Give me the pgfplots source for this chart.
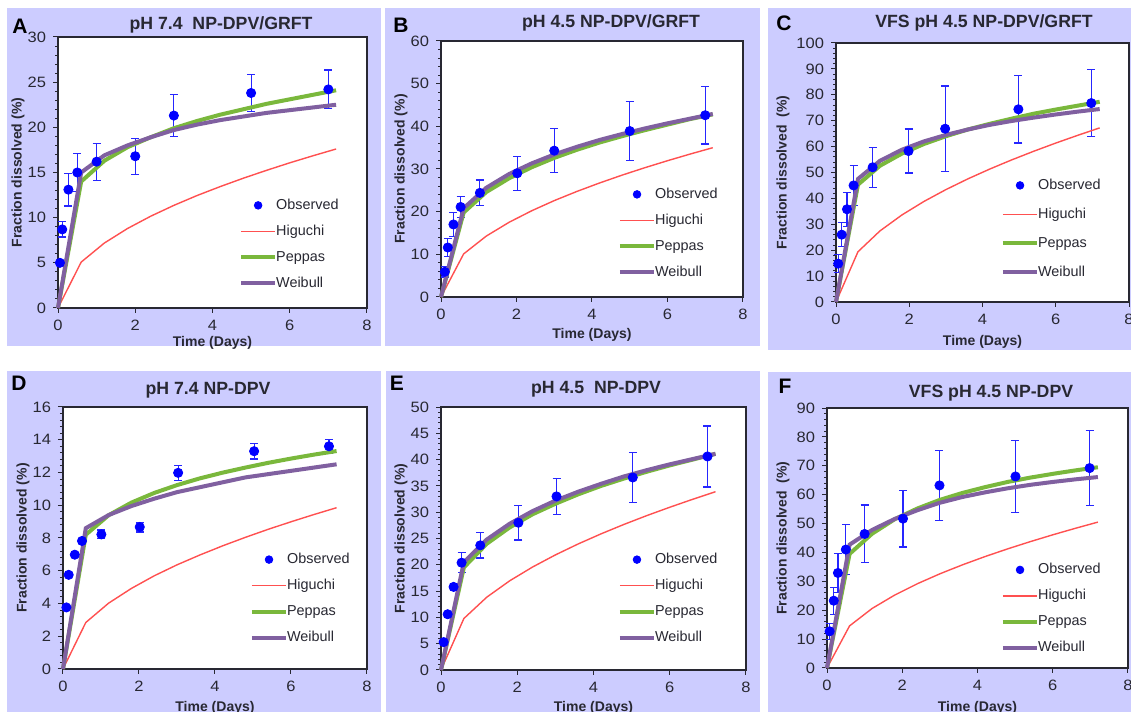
\documentclass[border=0pt]{standalone}
\usepackage{fontspec}
\setmainfont{Liberation Sans}
\newfontfamily\tickfont[FakeStretch=1.1]{Liberation Sans}
\usepackage{pgfplots}
\pgfplotsset{compat=1.18}
\definecolor{lav}{RGB}{204,204,255}
\definecolor{hig}{RGB}{255,80,80}
\definecolor{pep}{RGB}{122,184,60}
\definecolor{wei}{RGB}{128,96,160}
\definecolor{obs}{RGB}{0,0,255}
\definecolor{txt}{RGB}{40,40,50}
\tikzset{legtext/.style={anchor=west, inner sep=0.5pt, text height=5.2pt, text depth=1.5pt, font=\fontsize{7.2}{8}\selectfont, text=txt}}
\pgfplotsset{
  panel/.style={
    scale only axis, anchor=south west, clip=false,
    xmin=0, xmax=8, xtick={0,2,4,6,8}, ymin=0,
    tick align=outside, tick pos=left,
    minor y tick num=4,
    major tick length=2.5pt, minor tick length=1.5pt,
    axis line style={draw=txt, line width=0.7pt},
    every tick/.style={txt, line width=0.5pt},
    tick label style={font=\tickfont\fontsize{7.5}{9}\selectfont, color=txt},
    /pgf/number format/assume math mode=true,
    axis background/.style={fill=white},
    xlabel={Time (Days)}, ylabel={Fraction dissolved (\%)},
    label style={font=\bfseries\fontsize{7}{8}\selectfont, color=txt},
    legend cell align=left,
    legend style={draw=none, fill=none, anchor=north west, inner sep=0pt, outer sep=0pt,
      row sep=4.5pt, column sep=0pt,
      nodes={inner sep=0pt, text height=6pt, text depth=2.5pt}},
  },
  obsst/.style={only marks, mark=*, mark size=2.3pt, color=obs, forget plot,
    error bars/.cd, y dir=both, y explicit,
    error bar style={obs!85, line width=0.6pt},
    error mark options={rotate=90, mark size=2pt, obs!85, line width=0.6pt}},
  higst/.style={hig, line width=0.7pt, no marks, forget plot},
  pepst/.style={pep, line width=2pt, no marks, forget plot},
  weist/.style={wei, line width=2pt, no marks, forget plot},
}
\newcommand{\leg}{%
  \addlegendimage{legend image code/.code={\path[draw=none] (0cm,0cm) -- (0.6cm,0cm); \fill[obs] (0.3cm,0cm) circle (1.9pt); \node[legtext] at (0.6cm,0cm) {Observed};}}
  \addlegendentry{}
  \addlegendimage{legend image code/.code={\draw[hig, line width=0.8pt] (0cm,0cm) -- (0.6cm,0cm); \node[legtext] at (0.6cm,0cm) {Higuchi};}}
  \addlegendentry{}
  \addlegendimage{legend image code/.code={\draw[pep, line width=2pt] (0cm,0cm) -- (0.6cm,0cm); \node[legtext] at (0.6cm,0cm) {Peppas};}}
  \addlegendentry{}
  \addlegendimage{legend image code/.code={\draw[wei, line width=2pt] (0cm,0cm) -- (0.6cm,0cm); \node[legtext] at (0.6cm,0cm) {Weibull};}}
  \addlegendentry{}}
\newcommand{\ttl}[1]{\bfseries\fontsize{8.85}{10}\selectfont #1}
\newcommand{\lett}[1]{\bfseries\fontsize{10.5}{12}\selectfont #1}
\begin{document}
\begin{tikzpicture}
\path[use as bounding box] (0,0) rectangle (565.5pt,356pt);
\fill[lav] (3.5pt,183pt) rectangle (190.5pt,352pt);
\fill[lav] (192.5pt,183pt) rectangle (380pt,352pt);
\fill[lav] (384pt,181pt) rectangle (565.5pt,352pt);
\fill[lav] (3.5pt,0pt) rectangle (190.5pt,170.5pt);
\fill[lav] (193pt,0pt) rectangle (380pt,170.5pt);
\fill[lav] (384pt,0pt) rectangle (565.5pt,170pt);

\node[txt] at (110.5pt,343.5pt) {\ttl{pH 7.4\ \ NP-DPV/GRFT}};
\node[txt] at (305.5pt,344.5pt) {\ttl{pH 4.5 NP-DPV/GRFT}};
\node[txt] at (492pt,344.5pt) {\ttl{VFS pH 4.5 NP-DPV/GRFT}};
\node[txt] at (104pt,161pt) {\ttl{pH 7.4 NP-DPV}};
\node[txt] at (298pt,161.5pt) {\ttl{pH 4.5\ \ NP-DPV}};
\node[txt] at (495.5pt,159.5pt) {\ttl{VFS pH 4.5 NP-DPV}};
\node at (10pt,343pt) {\lett{A}};
\node at (200.5pt,343.5pt) {\lett{B}};
\node at (392pt,344.5pt) {\lett{C}};
\node at (9.5pt,164.5pt) {\lett{D}};
\node at (198.5pt,164.5pt) {\lett{E}};
\node at (392.5pt,163pt) {\lett{F}};

% ---------------- A
\begin{axis}[panel, at={(29pt,202pt)}, width=154.5pt, height=135.5pt,
  ymax=30, ytick={0,5,...,30},
  ylabel style={at={([xshift=-20pt]axis description cs:0,0.5)}, anchor=center},
  xlabel style={at={([yshift=-17.5pt]axis description cs:0.5,0)}, anchor=center},
  legend style={at={(0.586,0.41)}}]
\addplot[obsst] table[x=t,y=f,y error=e]{
t f e
0.05 5.0 0.3
0.11 8.7 0.85
0.27 13.1 1.8
0.5 15.0 2.1
1 16.2 2.05
2 16.8 2.0
3 21.3 2.3
5 23.8 2.05
7 24.2 2.15
};
\addplot[higst] coordinates {(0,0) (0.6,5.08) (1.2,7.19) (1.8,8.80) (2.4,10.16) (3.0,11.36) (3.6,12.45) (4.2,13.44) (4.8,14.37) (5.4,15.24) (6.0,16.07) (6.6,16.85) (7.2,17.60)};
\addplot[pepst] coordinates {(0,0) (0.6,14.0) (1.2,16.3) (1.8,17.8) (2.4,18.9) (3.0,19.9) (3.6,20.7) (4.2,21.4) (4.8,22.0) (5.4,22.6) (6.0,23.1) (6.6,23.6) (7.2,24.1)};
\addplot[weist] coordinates {(0,0) (0.6,15.0) (1.2,16.9) (1.8,18.0) (2.4,18.9) (3.0,19.7) (3.6,20.3) (4.2,20.8) (4.8,21.2) (5.4,21.6) (6.0,21.9) (6.6,22.2) (7.2,22.5)};
\leg
\end{axis}

% ---------------- B
\begin{axis}[panel, at={(220.5pt,207.5pt)}, width=151pt, height=128pt,
  ymax=60, ytick={0,10,...,60},
  ylabel style={at={([xshift=-20pt]axis description cs:0,0.5)}, anchor=center},
  xlabel style={at={([yshift=-19pt]axis description cs:0.5,0)}, anchor=center},
  legend style={at={(0.586,0.434)}}]
\addplot[obsst] table[x=t,y=f,y error=e]{
t f e
0.1 5.9 1.2
0.18 11.6 2.2
0.33 17.0 2.8
0.52 21.1 2.45
1.03 24.4 3.0
2.02 29.0 4.0
3.0 34.3 5.1
5.0 38.9 6.85
7.0 42.6 6.75
};
\addplot[higst] coordinates {(0,0) (0.6,10.10) (1.2,14.28) (1.8,17.49) (2.4,20.20) (3.0,22.59) (3.6,24.74) (4.2,26.72) (4.8,28.57) (5.4,30.30) (6.0,31.94) (6.6,33.50) (7.2,34.99)};
\addplot[pepst] coordinates {(0,0) (0.6,19.8) (1.2,24.6) (1.8,27.8) (2.4,30.4) (3.0,32.6) (3.6,34.5) (4.2,36.2) (4.8,37.7) (5.4,39.1) (6.0,40.4) (6.6,41.7) (7.2,42.8)};
\addplot[weist] coordinates {(0,0) (0.6,20.8) (1.2,25.6) (1.8,28.8) (2.4,31.3) (3.0,33.4) (3.6,35.2) (4.2,36.8) (4.8,38.2) (5.4,39.5) (6.0,40.7) (6.6,41.8) (7.2,42.9)};
\leg
\end{axis}

% ---------------- C
\begin{axis}[panel, at={(418pt,205pt)}, width=146.5pt, height=129.5pt,
  ymax=100, ytick={0,10,...,100},
  ylabel={Fraction dissolved\ \ (\%)},
  ylabel style={at={([xshift=-26.5pt]axis description cs:0,0.5)}, anchor=center},
  xlabel style={at={([yshift=-20pt]axis description cs:0.5,0)}, anchor=center},
  legend style={at={(0.563,0.483)}, row sep=6pt}]
\addplot[obsst] table[x=t,y=f,y error=e]{
t f e
0.06 14.8 3.5
0.155 26.0 4.7
0.3 35.8 6.6
0.48 45.0 7.6
1.0 52.0 7.7
1.98 58.3 8.5
2.98 66.9 16.5
4.98 74.4 13.0
6.97 76.8 13.0
};
\addplot[higst] coordinates {(0,0) (0.6,19.40) (1.2,27.44) (1.8,33.61) (2.4,38.81) (3.0,43.39) (3.6,47.53) (4.2,51.34) (4.8,54.88) (5.4,58.21) (6.0,61.36) (6.6,64.35) (7.2,67.22)};
\addplot[pepst] coordinates {(0,0) (0.6,45.3) (1.2,52.6) (1.8,57.3) (2.4,61.0) (3.0,64.0) (3.6,66.6) (4.2,68.8) (4.8,70.8) (5.4,72.7) (6.0,74.3) (6.6,75.8) (7.2,77.3)};
\addplot[weist] coordinates {(0,0) (0.6,47.5) (1.2,54.5) (1.8,58.8) (2.4,62.0) (3.0,64.5) (3.6,66.6) (4.2,68.4) (4.8,69.9) (5.4,71.2) (6.0,72.4) (6.6,73.5) (7.2,74.5)};
\leg
\end{axis}

% ---------------- D
\begin{axis}[panel, at={(31.5pt,21.5pt)}, width=152pt, height=131pt,
  ymax=16, ytick={0,2,...,16},
  ylabel style={at={([xshift=-20pt]axis description cs:0,0.5)}, anchor=center},
  xlabel style={at={([yshift=-19.5pt]axis description cs:0.5,0)}, anchor=center},
  legend style={at={(0.615,0.45)}}]
\addplot[obsst] table[x=t,y=f,y error=e]{
t f e
0.09 3.76 0.1
0.15 5.75 0.1
0.31 6.98 0.12
0.5 7.82 0.15
1.01 8.22 0.27
2.02 8.67 0.3
3.03 11.98 0.45
5.03 13.3 0.47
7.0 13.6 0.43
};
\addplot[higst] coordinates {(0,0) (0.6,2.84) (1.2,4.02) (1.8,4.92) (2.4,5.69) (3.0,6.36) (3.6,6.96) (4.2,7.52) (4.8,8.04) (5.4,8.53) (6.0,8.99) (6.6,9.43) (7.2,9.85)};
\addplot[pepst] coordinates {(0,0) (0.6,8.2) (1.2,9.39) (1.8,10.16) (2.4,10.75) (3.0,11.23) (3.6,11.64) (4.2,11.99) (4.8,12.30) (5.4,12.59) (6.0,12.85) (6.6,13.09) (7.2,13.31)};
\addplot[weist] coordinates {(0,0) (0.6,8.6) (1.2,9.4) (1.8,9.95) (2.4,10.4) (3.0,10.8) (3.6,11.1) (4.2,11.4) (4.8,11.7) (5.4,11.9) (6.0,12.1) (6.6,12.3) (7.2,12.5)};
\leg
\end{axis}

% ---------------- E
\begin{axis}[panel, at={(220.5pt,21pt)}, width=152.5pt, height=131.5pt,
  ymax=50, ytick={0,5,...,50},
  ylabel style={at={([xshift=-20pt]axis description cs:0,0.5)}, anchor=center},
  xlabel style={at={([yshift=-19pt]axis description cs:0.5,0)}, anchor=center},
  legend style={at={(0.58,0.452)}}]
\addplot[obsst] table[x=t,y=f,y error=e]{
t f e
0.07 5.3 0.3
0.175 10.6 0.4
0.33 15.8 0.6
0.54 20.4 1.9
1.03 23.7 2.4
2.03 28.0 3.3
3.03 33.0 3.4
5.03 36.6 4.7
6.99 40.6 5.8
};
\addplot[higst] coordinates {(0,0) (0.6,9.79) (1.2,13.84) (1.8,16.95) (2.4,19.57) (3.0,21.88) (3.6,23.97) (4.2,25.89) (4.8,27.68) (5.4,29.36) (6.0,30.94) (6.6,32.45) (7.2,33.90)};
\addplot[pepst] coordinates {(0,0) (0.6,19.5) (1.2,24.0) (1.8,27.1) (2.4,29.6) (3.0,31.6) (3.6,33.4) (4.2,35.0) (4.8,36.4) (5.4,37.7) (6.0,38.9) (6.6,40.0) (7.2,41.1)};
\addplot[weist] coordinates {(0,0) (0.6,20.5) (1.2,24.8) (1.8,27.8) (2.4,30.2) (3.0,32.2) (3.6,33.9) (4.2,35.4) (4.8,36.8) (5.4,38.0) (6.0,39.1) (6.6,40.1) (7.2,41.1)};
\leg
\end{axis}

% ---------------- F
\begin{axis}[panel, at={(413.5pt,22pt)}, width=150.5pt, height=130pt,
  ymax=90, ytick={0,10,...,90},
  ylabel={Fraction dissolved\ \ (\%)},
  ylabel style={at={([xshift=-22pt]axis description cs:0,0.5)}, anchor=center},
  xlabel style={at={([yshift=-20pt]axis description cs:0.5,0)}, anchor=center},
  legend style={at={(0.578,0.41)}}]
\addplot[obsst] table[x=t,y=f,y error=e]{
t f e
0.07 12.7 2.8
0.18 23.3 4.7
0.29 32.9 6.7
0.5 41.0 8.7
1.0 46.4 10.0
2.02 51.7 9.8
2.99 63.2 12.2
5.01 66.3 12.5
6.98 69.2 13.0
};
\addplot[higst] coordinates {(0,0) (0.6,14.58) (1.2,20.62) (1.8,25.25) (2.4,29.16) (3.0,32.60) (3.6,35.71) (4.2,38.57) (4.8,41.23) (5.4,43.73) (6.0,46.10) (6.6,48.35) (7.2,50.50)};
\addplot[pepst] coordinates {(0,0) (0.6,39.5) (1.2,46.5) (1.8,51.5) (2.4,55.2) (3.0,58.2) (3.6,60.6) (4.2,62.6) (4.8,64.4) (5.4,65.9) (6.0,67.2) (6.6,68.4) (7.2,69.5)};
\addplot[weist] coordinates {(0,0) (0.6,42.7) (1.2,47.8) (1.8,51.6) (2.4,54.6) (3.0,57.2) (3.6,59.2) (4.2,60.8) (4.8,62.2) (5.4,63.4) (6.0,64.4) (6.6,65.3) (7.2,66.1)};
\leg
\end{axis}
\end{tikzpicture}
\end{document}
